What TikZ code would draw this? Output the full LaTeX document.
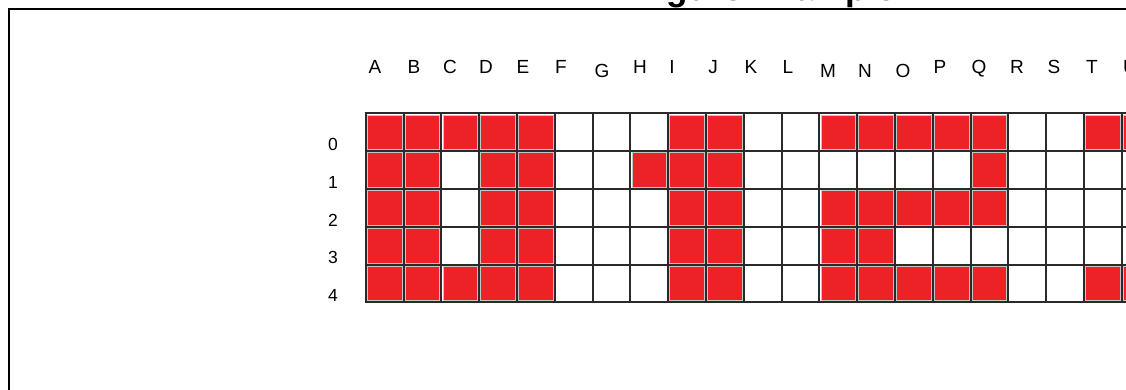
\documentclass[tikz,border=0pt]{standalone}
\usepackage{fontspec}
\setmainfont{Liberation Sans}
\definecolor{cellred}{HTML}{EC2227}
\definecolor{gridline}{HTML}{2A2A2A}
\begin{document}
\begin{tikzpicture}[x=1pt,y=-1pt,
  collabel/.style={anchor=base,inner sep=0pt,font=\fontsize{19}{19}\selectfont},
  rowlabel/.style={anchor=base,inner sep=0pt,font=\fontsize{17.5}{17.5}\selectfont},
  redcell/.style={fill=cellred,draw=gray!45,line width=0.8pt},
  gridstroke/.style={draw=gridline,line width=2pt},
  framestroke/.style={draw=black,line width=2.2pt}]
\useasboundingbox (0,0) rectangle (1126,389);
% frame
\draw[framestroke] (9,400) -- (9,9) -- (1140,9);
% title (mostly cut off)
\node[anchor=base,inner sep=0pt,font=\fontsize{35}{35}\selectfont\bfseries] (title) at (766,0) {Figure Example};
% red cells
\def\s{37.8}
\def\xo{365.7}
\def\yo{113.3}
\foreach \r/\cols in {0/{0,1,2,3,4,8,9,12,13,14,15,16,19,20},
                      1/{0,1,3,4,7,8,9,16},
                      2/{0,1,3,4,8,9,12,13,14,15,16},
                      3/{0,1,3,4,8,9,12,13},
                      4/{0,1,2,3,4,8,9,12,13,14,15,16,19,20}}{
  \foreach \c in \cols {
    \path[redcell] ({\xo+\c*\s+1.6},{\yo+\r*\s+1.6}) rectangle ({\xo+(\c+1)*\s-1.6},{\yo+(\r+1)*\s-1.6});
  }
}
% grid lines
\foreach \c in {0,...,21}{
  \draw[gridstroke] ({\xo+\c*\s},{\yo}) -- ({\xo+\c*\s},{\yo+5*\s});
}
\foreach \r in {0,...,5}{
  \draw[gridstroke] ({\xo-1},{\yo+\r*\s}) -- ({\xo+21*\s},{\yo+\r*\s});
}
% column labels
\foreach \L/\x/\y in {A/375/73.5,B/414/73.5,C/450/73.5,D/486/73.5,E/523/73.5,F/561/73.5,
                      G/602/77.5,H/640/73.5,I/672/73.5,J/713/73.5,K/751/73.5,L/788/73.5,
                      M/828/77.5,N/865/77.5,O/903/77.5,P/940/73.5,Q/979/73.5,R/1017/73.5,
                      S/1054/73.5,T/1092/73.5,U/1130/73.5}{
  \node[collabel] (col\L) at (\x,\y) {\L};
}
% row labels
\foreach \n/\y in {0/150,1/188,2/226.5,3/263.5,4/301.5}{
  \node[rowlabel] (row\n) at (333,\y) {\n};
}
\end{tikzpicture}
\end{document}
